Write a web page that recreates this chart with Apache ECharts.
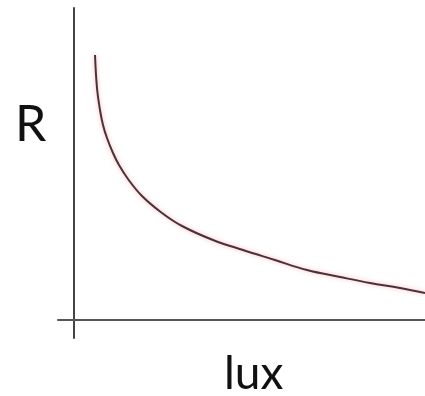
<!DOCTYPE html>
<html><head><meta charset="utf-8">
<script src="https://cdn.jsdelivr.net/npm/echarts@6/dist/echarts.min.js"></script>
<style>html,body{margin:0;padding:0;background:#fff}#c{width:425px;height:396px}</style>
</head><body><div id="c"></div>
<script>
// lux (relative units) and resistance R (relative units)
const luxValues = [21, 23, 26, 29, 33, 39, 45, 54, 68, 88, 108, 139, 169, 201, 233, 266, 296, 326, 351];
const rValues   = [265, 232, 210, 195, 182, 167, 155, 141, 124, 107, 94, 80, 70, 60, 50, 43, 37, 32, 27];
const xAxisName = 'lux';
const yAxisName = 'R';

const chart = echarts.init(document.getElementById('c'), null, {renderer: 'canvas'});
chart.setOption({
  animation: false,
  backgroundColor: '#fff',
  grid: {left: 58, right: 0, top: 8, bottom: 58},
  xAxis: {
    type: 'value', min: -16, max: 351,
    axisLine: {show: true, onZero: true, lineStyle: {color: '#555', width: 2}},
    axisTick: {show: false}, axisLabel: {show: false}, splitLine: {show: false}
  },
  yAxis: {
    type: 'value', min: -18, max: 312,
    axisLine: {show: true, onZero: true, lineStyle: {color: '#444', width: 2}},
    axisTick: {show: false}, axisLabel: {show: false}, splitLine: {show: false}
  },
  graphic: [
    {type: 'text', left: 15, top: 100, style: {text: yAxisName, font: '50px Lato, "Noto Sans", sans-serif', fill: '#111'}},
    {type: 'text', left: 224, top: 351, style: {text: xAxisName, font: '46px Lato, "Noto Sans", sans-serif', fill: '#111'}}
  ],
  series: [{
    type: 'line', smooth: 0.4, symbol: 'none',
    data: luxValues.map((x, i) => [x, rValues[i]]),
    lineStyle: {color: '#4a3338', width: 2, shadowColor: 'rgba(255,120,130,0.6)', shadowBlur: 4}
  }]
});
</script></body></html>
